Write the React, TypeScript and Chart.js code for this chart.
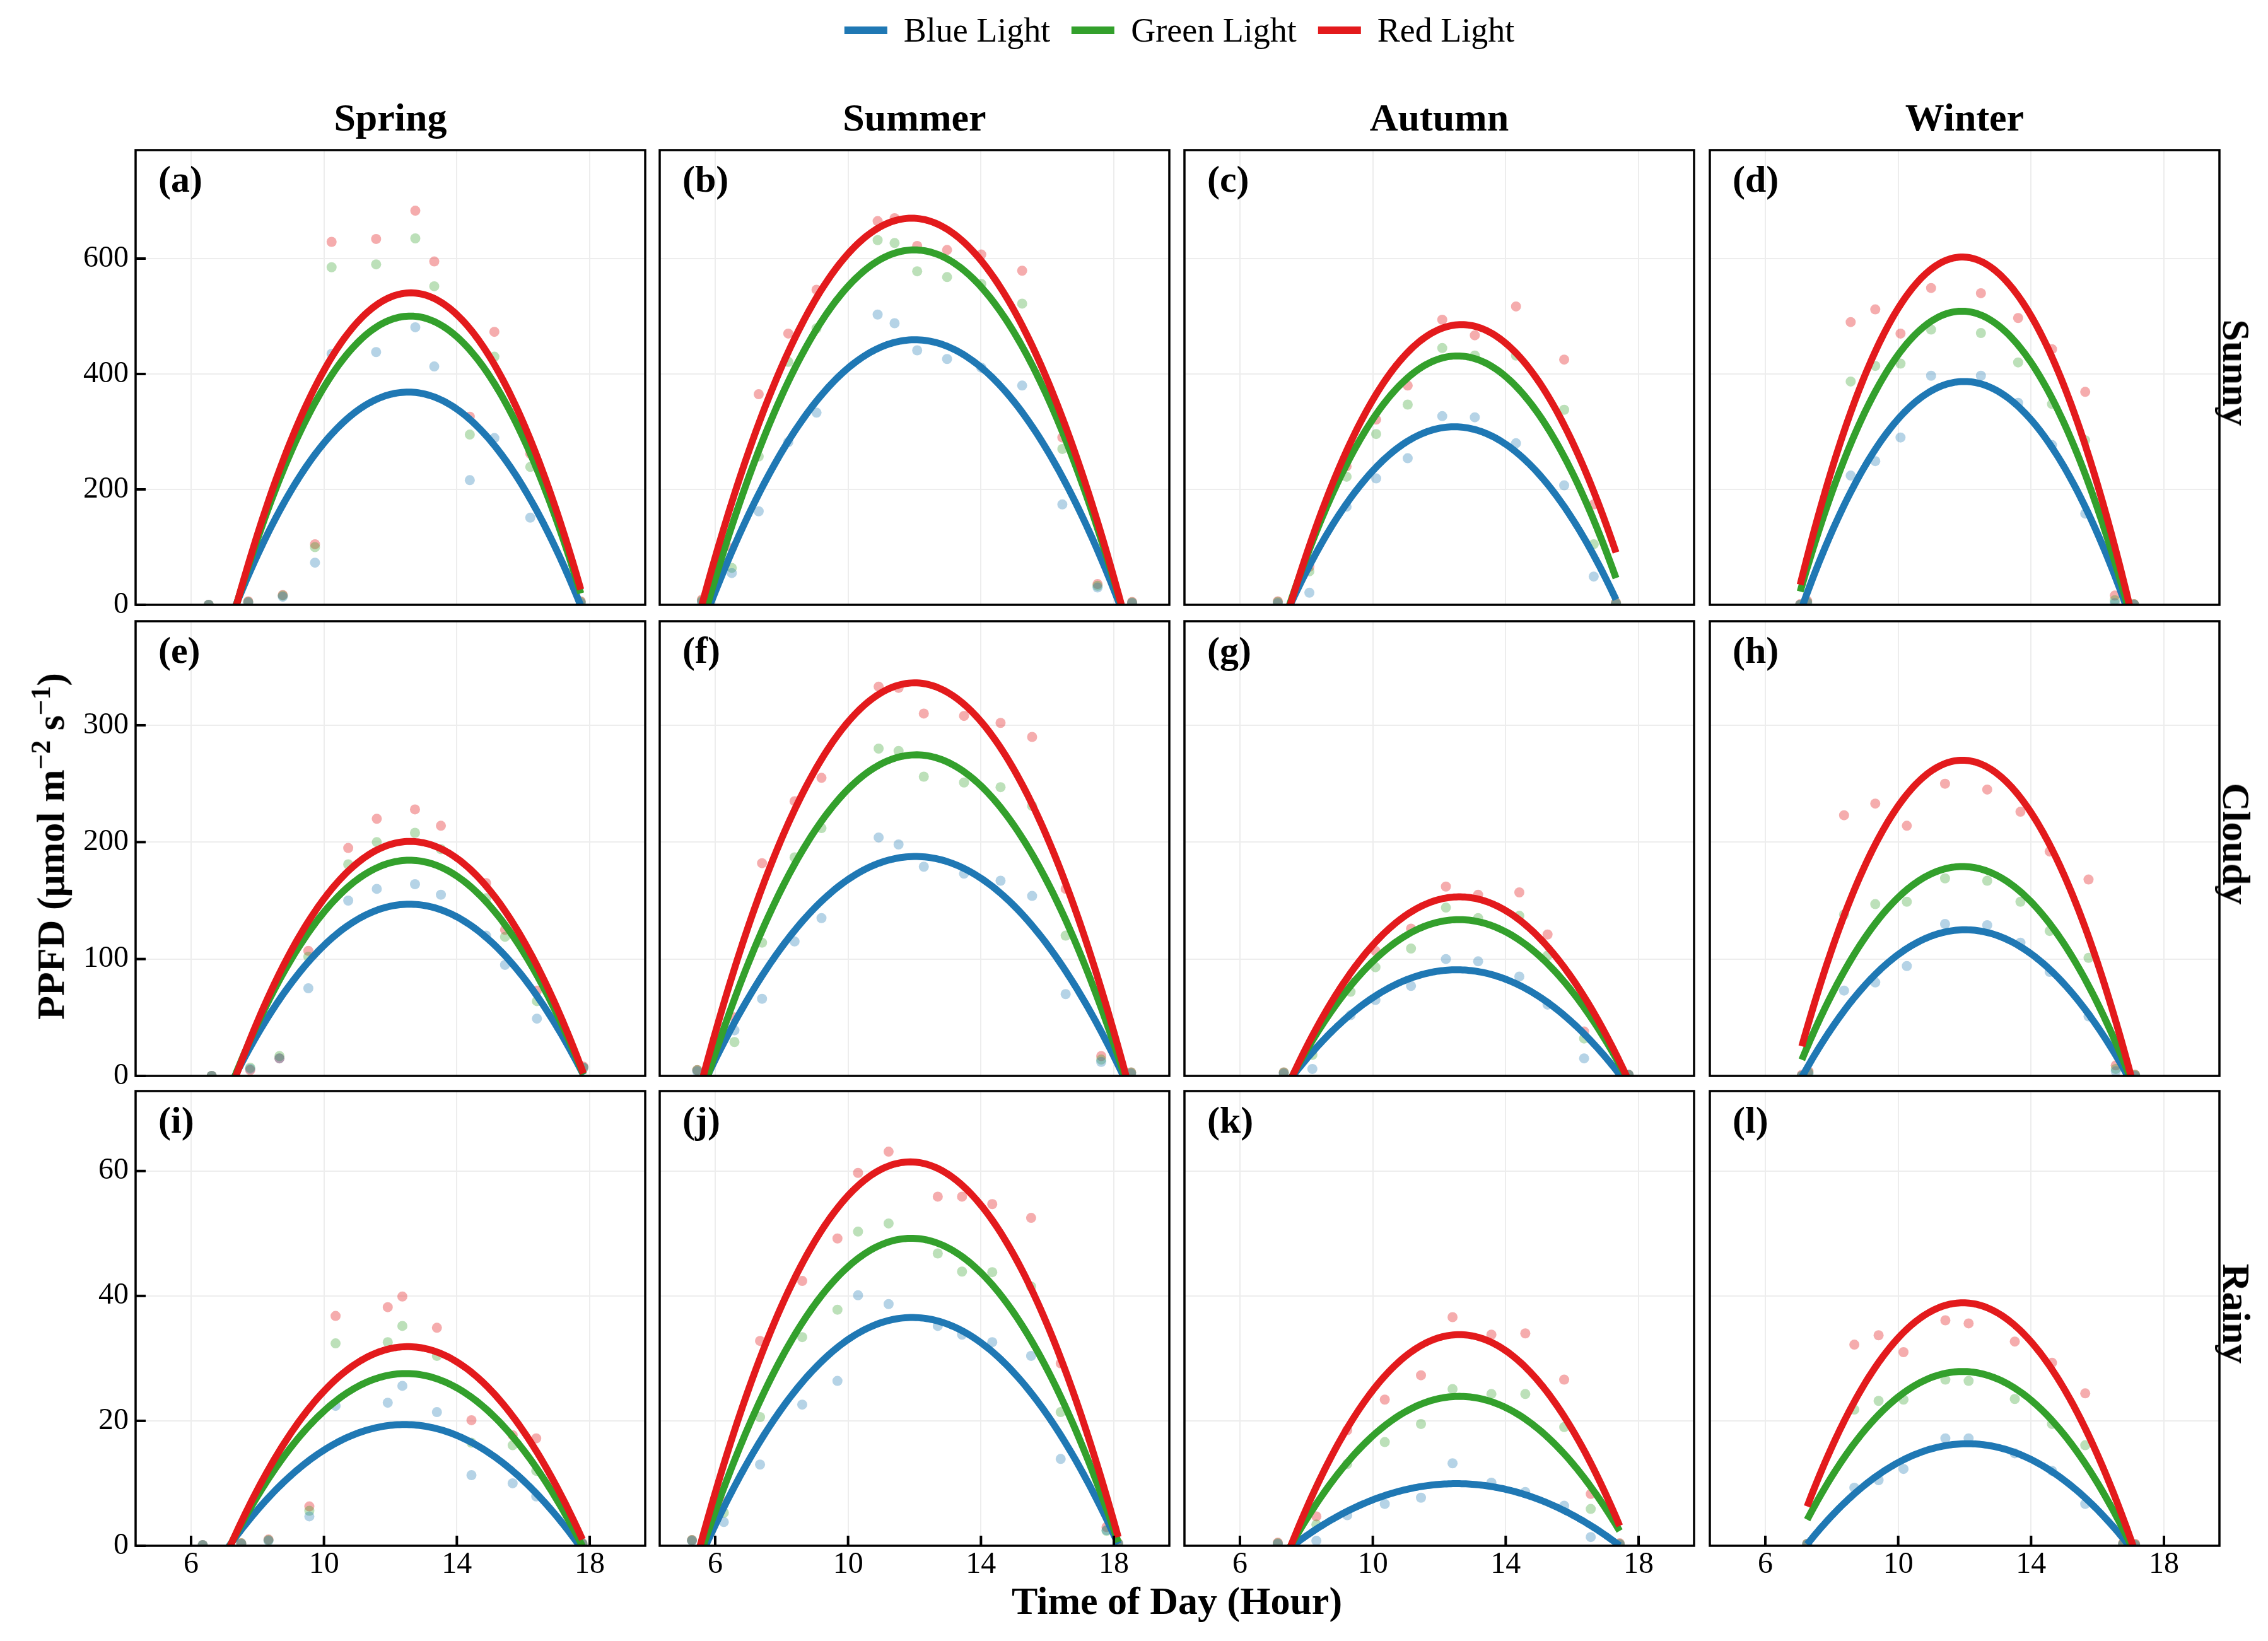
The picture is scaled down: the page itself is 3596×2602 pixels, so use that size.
import React, { useEffect, useRef } from "react";
import { Chart, registerables } from "chart.js";

Chart.register(...registerables);

// ---------------- data ----------------
const SERIES = ["Blue Light", "Green Light", "Red Light"];
const SEASONS = ["Spring", "Summer", "Autumn", "Winter"];
const WEATHER = ["Sunny", "Cloudy", "Rainy"];
const PANEL_TAGS = ["(a)", "(b)", "(c)", "(d)", "(e)", "(f)", "(g)", "(h)", "(i)", "(j)", "(k)", "(l)"];
const X_TICKS = [6, 10, 14, 18];
const Y_TICKS_SUNNY = [0, 200, 400, 600];
const Y_TICKS_CLOUDY = [0, 100, 200, 300];
const Y_TICKS_RAINY = [0, 20, 40, 60];
const X_LIMITS = [4.33, 19.67];
const Y_LIMITS_TOP = [788, 389, 72.8];

// (a) Spring - Sunny
const timeA = [6.53, 7.72, 8.76, 9.73, 10.23, 11.57, 12.75, 13.32, 14.39, 15.13, 16.21, 17.73];
const blueA = [0, 4, 14, 73, 435, 438, 481, 413, 216, 289, 151, 3];
const greenA = [0, 5, 16, 100, 585, 590, 635, 552, 295, 430, 239, 5];
const redA = [0, 6, 17, 105, 629, 634, 683, 595, 326, 473, 262, 6];
// (b) Summer - Sunny
const timeB = [5.6, 6.5, 7.31, 8.2, 9.05, 10.89, 11.4, 12.08, 12.98, 14.01, 15.24, 16.45, 17.51, 18.55];
const blueB = [5, 55, 162, 282, 333, 503, 488, 441, 426, 411, 380, 174, 30, 3];
const greenB = [7, 64, 257, 421, 479, 632, 627, 578, 568, 556, 522, 270, 33, 4];
const redB = [9, 98, 365, 470, 546, 665, 670, 622, 615, 607, 579, 290, 36, 5];
// (c) Autumn - Sunny
const timeC = [7.14, 8.09, 9.21, 10.1, 11.05, 12.09, 13.07, 14.31, 15.76, 16.65, 17.32];
const blueC = [3, 21, 170, 219, 254, 327, 325, 280, 207, 49, 2];
const greenC = [5, 58, 222, 296, 347, 445, 432, 432, 338, 105, 3];
const redC = [6, 66, 240, 321, 380, 494, 467, 517, 425, 174, 4];
// (d) Winter - Sunny
const timeD = [7.05, 7.26, 8.57, 9.31, 10.07, 10.99, 12.49, 13.61, 14.63, 15.63, 16.52, 17.1];
const blueD = [0, 3, 224, 249, 290, 397, 397, 350, 277, 158, 3, 0];
const greenD = [0, 5, 387, 414, 418, 477, 471, 420, 348, 285, 8, 1];
const redD = [1, 7, 490, 512, 470, 549, 540, 497, 443, 369, 16, 1];
// (e) Spring - Cloudy
const timeE = [6.62, 7.78, 8.66, 9.53, 10.73, 11.59, 12.74, 13.52, 14.88, 15.45, 16.41, 17.81];
const blueE = [0, 6, 15, 75, 150, 160, 164, 155, 120, 95, 49, 7];
const greenE = [0, 7, 17, 102, 181, 200, 208, 194, 152, 119, 64, 7];
const redE = [0, 5, 15, 107, 195, 220, 228, 214, 165, 125, 73, 8];
// (f) Summer - Cloudy
const timeF = [5.46, 6.58, 7.41, 8.39, 9.2, 10.92, 11.52, 12.28, 13.49, 14.59, 15.54, 16.55, 17.62, 18.52];
const blueF = [4, 39, 66, 115, 135, 204, 198, 179, 173, 167, 154, 70, 12, 2];
const greenF = [5, 29, 114, 187, 212, 280, 278, 256, 251, 247, 231, 120, 14, 3];
const redF = [5, 50, 182, 235, 255, 333, 332, 310, 308, 302, 290, 160, 17, 3];
// (g) Autumn - Cloudy
const timeG = [7.32, 8.18, 9.33, 10.08, 11.15, 12.2, 13.17, 14.41, 15.26, 16.36, 17.7];
const blueG = [2, 6, 52, 65, 77, 100, 98, 85, 61, 15, 1];
const greenG = [3, 18, 72, 93, 109, 144, 135, 137, 103, 32, 1];
const redG = [3, 22, 80, 107, 126, 162, 155, 157, 121, 38, 1];
// (h) Winter - Cloudy
const timeH = [7.1, 7.3, 8.37, 9.31, 10.26, 11.41, 12.68, 13.68, 14.56, 15.73, 16.55, 17.13];
const blueH = [0, 2, 73, 80, 94, 130, 129, 114, 89, 51, 4, 0];
const greenH = [0, 3, 138, 147, 149, 169, 167, 149, 124, 101, 6, 1];
const redH = [1, 4, 223, 233, 214, 250, 245, 226, 192, 168, 9, 1];
// (i) Spring - Rainy
const timeI = [6.35, 7.51, 8.33, 9.56, 10.35, 11.92, 12.36, 13.4, 14.44, 15.68, 16.39, 17.78];
const blueI = [0.1, 0.3, 0.8, 4.7, 22.4, 22.9, 25.6, 21.4, 11.3, 10.0, 7.9, 0.3];
const greenI = [0.1, 0.4, 0.9, 5.6, 32.4, 32.6, 35.2, 30.4, 16.5, 16.1, 12.0, 0.4];
const redI = [0.1, 0.4, 1.0, 6.3, 36.8, 38.2, 39.9, 34.9, 20.1, 17.7, 17.2, 0.4];
// (j) Summer - Rainy
const timeJ = [5.3, 6.26, 7.35, 8.62, 9.68, 10.3, 11.22, 12.7, 13.43, 14.34, 15.51, 16.4, 17.78, 18.13];
const blueJ = [0.8, 3.8, 13.0, 22.6, 26.4, 40.1, 38.7, 35.2, 33.8, 32.6, 30.4, 13.9, 2.5, 0.3];
const greenJ = [0.9, 5.3, 20.6, 33.4, 37.8, 50.3, 51.6, 46.8, 43.9, 43.8, 41.5, 21.4, 2.4, 0.4];
const redJ = [0.9, 7.0, 32.8, 42.4, 49.2, 59.7, 63.1, 55.9, 55.9, 54.7, 52.5, 29.2, 3.0, 0.4];
// (k) Autumn - Rainy
const timeK = [7.14, 8.3, 9.23, 10.36, 11.45, 12.4, 13.57, 14.59, 15.76, 16.56, 17.43];
const blueK = [0.3, 0.8, 4.9, 6.7, 7.7, 13.2, 10.1, 8.6, 6.4, 1.4, 0.2];
const greenK = [0.4, 3.4, 13.1, 16.6, 19.5, 25.1, 24.3, 24.3, 19.0, 5.9, 0.3];
const redK = [0.5, 4.7, 18.5, 23.4, 27.3, 36.6, 33.8, 34.0, 26.6, 8.3, 0.4];
// (l) Winter - Rainy
const timeL = [7.26, 8.68, 9.41, 10.16, 11.42, 12.12, 13.51, 14.63, 15.63, 16.77, 17.13];
const blueL = [0.2, 9.3, 10.5, 12.3, 17.2, 17.2, 14.8, 12.0, 6.7, 0.2, 0.1];
const greenL = [0.3, 21.8, 23.2, 23.4, 26.6, 26.4, 23.5, 19.5, 16.1, 0.3, 0.2];
const redL = [0.3, 32.2, 33.7, 31.0, 36.1, 35.6, 32.7, 29.3, 24.4, 0.4, 0.3];

const PANEL_DATA = [
  { t: timeA, s: [blueA, greenA, redA] },
  { t: timeB, s: [blueB, greenB, redB] },
  { t: timeC, s: [blueC, greenC, redC] },
  { t: timeD, s: [blueD, greenD, redD] },
  { t: timeE, s: [blueE, greenE, redE] },
  { t: timeF, s: [blueF, greenF, redF] },
  { t: timeG, s: [blueG, greenG, redG] },
  { t: timeH, s: [blueH, greenH, redH] },
  { t: timeI, s: [blueI, greenI, redI] },
  { t: timeJ, s: [blueJ, greenJ, redJ] },
  { t: timeK, s: [blueK, greenK, redK] },
  { t: timeL, s: [blueL, greenL, redL] },
];
const ROW_TICKS = [Y_TICKS_SUNNY, Y_TICKS_CLOUDY, Y_TICKS_RAINY];

// ---------------- styling / layout ----------------
const FONT = '"Liberation Serif", "Times New Roman", serif';
const LINE_COLORS = ["#1f78b4", "#33a02c", "#e31a1c"];
const POINT_COLORS = ["rgba(31,120,180,0.33)", "rgba(51,160,44,0.33)", "rgba(227,26,28,0.36)"];
const PANEL_LEFT = [215, 1046, 1878, 2711];
const PANEL_TOP = [238, 985, 1730];
const PANEL_W = 808;
const PANEL_H = 721;
const PAD_L = 140;
const PAD_T = 10;
const PAD_R = 10;
const PAD_B = 90;
const CURVE_SAMPLES = 160;

// least-squares quadratic fit (the fitted trend curve drawn in the figure)
function fitQuadratic(xs: number[], ys: number[]) {
  const m = [
    [0, 0, 0],
    [0, 0, 0],
    [0, 0, 0],
  ];
  const v = [0, 0, 0];
  for (let i = 0; i < xs.length; i++) {
    const x = xs[i] - 12;
    const p = [1, x, x * x];
    for (let j = 0; j < 3; j++) {
      v[j] += p[j] * ys[i];
      for (let k = 0; k < 3; k++) m[j][k] += p[j] * p[k];
    }
  }
  for (let col = 0; col < 3; col++) {
    let piv = col;
    for (let r = col + 1; r < 3; r++) if (Math.abs(m[r][col]) > Math.abs(m[piv][col])) piv = r;
    [m[col], m[piv]] = [m[piv], m[col]];
    [v[col], v[piv]] = [v[piv], v[col]];
    for (let r = col + 1; r < 3; r++) {
      const f = m[r][col] / m[col][col];
      for (let k = col; k < 3; k++) m[r][k] -= f * m[col][k];
      v[r] -= f * v[col];
    }
  }
  const c = [0, 0, 0];
  for (let r = 2; r >= 0; r--) {
    let s = v[r];
    for (let k = r + 1; k < 3; k++) s -= m[r][k] * c[k];
    c[r] = s / m[r][r];
  }
  return (x: number) => c[0] + c[1] * (x - 12) + c[2] * (x - 12) * (x - 12);
}

function Panel({ idx }: { idx: number }) {
  const ref = useRef<HTMLCanvasElement | null>(null);
  const row = Math.floor(idx / 4);
  const col = idx % 4;
  const W = PANEL_W + PAD_L + PAD_R;
  const H = PANEL_H + PAD_T + PAD_B;

  useEffect(() => {
    if (!ref.current) return;
    const pd = PANEL_DATA[idx];
    const showX = row === 2;
    const showY = col === 0;
    const yTicks = ROW_TICKS[row];
    const tMin = Math.min(...pd.t);
    const tMax = Math.max(...pd.t);

    const datasets: any[] = [];
    pd.s.forEach((vals, si) => {
      datasets.push({
        type: "scatter",
        label: SERIES[si] + " data",
        data: pd.t.map((x, i) => ({ x, y: vals[i] })),
        backgroundColor: POINT_COLORS[si],
        borderWidth: 0,
        pointRadius: 8,
        pointHoverRadius: 8,
        clip: 0,
        order: 10,
      });
    });
    pd.s.forEach((vals, si) => {
      const f = fitQuadratic(pd.t, vals);
      const pts = [];
      for (let k = 0; k <= CURVE_SAMPLES; k++) {
        const x = tMin + ((tMax - tMin) * k) / CURVE_SAMPLES;
        pts.push({ x, y: f(x) });
      }
      datasets.push({
        type: "line",
        label: SERIES[si],
        data: pts,
        borderColor: LINE_COLORS[si],
        borderWidth: 11,
        pointRadius: 0,
        tension: 0,
        fill: false,
        clip: 0,
        borderCapStyle: "butt",
        order: 3 - si,
      });
    });

    const framePlugin = {
      id: "frameAndTags",
      afterDraw(chart: any) {
        const { ctx, chartArea: a } = chart;
        ctx.save();
        ctx.strokeStyle = "#000";
        ctx.lineWidth = 3.5;
        ctx.strokeRect(a.left, a.top, a.right - a.left, a.bottom - a.top);
        ctx.lineWidth = 4;
        if (showX) {
          chart.scales.x.ticks.forEach((t: any) => {
            const px = chart.scales.x.getPixelForValue(t.value);
            ctx.beginPath();
            ctx.moveTo(px, a.bottom);
            ctx.lineTo(px, a.bottom - 16);
            ctx.stroke();
          });
        }
        if (showY) {
          chart.scales.y.ticks.forEach((t: any) => {
            const py = chart.scales.y.getPixelForValue(t.value);
            ctx.beginPath();
            ctx.moveTo(a.left, py);
            ctx.lineTo(a.left + 16, py);
            ctx.stroke();
          });
        }
        ctx.fillStyle = "#000";
        ctx.font = `bold 60px ${FONT}`;
        ctx.textAlign = "left";
        ctx.textBaseline = "middle";
        ctx.fillText(PANEL_TAGS[idx], a.left + 36, a.top + 50);
        ctx.restore();
      },
    };

    const chart = new Chart(ref.current, {
      type: "scatter",
      data: { datasets },
      options: {
        animation: false,
        responsive: false,
        devicePixelRatio: 1,
        events: [],
        layout: { padding: { left: 0, top: PAD_T, right: PAD_R, bottom: 0 } },
        plugins: { legend: { display: false }, tooltip: { enabled: false } },
        scales: {
          x: {
            type: "linear",
            min: X_LIMITS[0],
            max: X_LIMITS[1],
            afterBuildTicks: (s: any) => {
              s.ticks = X_TICKS.map((v) => ({ value: v }));
            },
            afterFit: (s: any) => {
              s.height = PAD_B;
              s.paddingLeft = 0;
              s.paddingRight = 0;
              s.paddingTop = 0;
              s.paddingBottom = 0;
            },
            ticks: {
              display: showX,
              color: "#000",
              font: { family: FONT, size: 48 },
              padding: 2,
              maxRotation: 0,
              autoSkip: false,
            },
            grid: { color: "#ededed", lineWidth: 2, drawTicks: false },
            border: { display: false },
          },
          y: {
            type: "linear",
            min: 0,
            max: Y_LIMITS_TOP[row],
            afterBuildTicks: (s: any) => {
              s.ticks = yTicks.map((v) => ({ value: v }));
            },
            afterFit: (s: any) => {
              s.width = PAD_L;
              s.paddingLeft = 0;
              s.paddingRight = 0;
              s.paddingTop = 0;
              s.paddingBottom = 0;
            },
            ticks: {
              display: showY,
              color: "#000",
              font: { family: FONT, size: 48 },
              padding: 11,
              autoSkip: false,
            },
            grid: { color: "#ededed", lineWidth: 2, drawTicks: false },
            border: { display: false },
          },
        },
      },
      plugins: [framePlugin],
    } as any);
    return () => chart.destroy();
  }, [idx]);

  return (
    <canvas
      ref={ref}
      width={W}
      height={H}
      style={{
        position: "absolute",
        left: PANEL_LEFT[col] - PAD_L,
        top: PANEL_TOP[row] - PAD_T,
        width: W,
        height: H,
      }}
    />
  );
}

export default function App() {
  useEffect(() => {
    document.body.style.margin = "0";
  }, []);

  const textBase: React.CSSProperties = {
    position: "absolute",
    fontFamily: FONT,
    color: "#000",
    whiteSpace: "nowrap",
    lineHeight: 1,
  };

  return (
    <div
      style={{
        position: "relative",
        width: 3596,
        height: 2602,
        background: "#fff",
        overflow: "hidden",
      }}
    >
      {/* legend */}
      <div
        style={{
          ...textBase,
          left: 1870,
          top: 48,
          transform: "translate(-50%, -50%)",
          display: "flex",
          alignItems: "center",
          fontSize: 54,
        }}
      >
        {SERIES.map((name, i) => (
          <div key={name} style={{ display: "flex", alignItems: "center", marginRight: i < 2 ? 34 : 0 }}>
            <span style={{ display: "inline-block", width: 68, height: 12, background: LINE_COLORS[i], marginRight: 26 }} />
            <span>{name}</span>
          </div>
        ))}
      </div>

      {/* column titles */}
      {SEASONS.map((s, c) => (
        <div
          key={s}
          style={{
            ...textBase,
            left: PANEL_LEFT[c],
            width: PANEL_W,
            top: 186,
            transform: "translateY(-50%)",
            textAlign: "center",
            fontWeight: "bold",
            fontSize: 62,
          }}
        >
          {s}
        </div>
      ))}

      {Array.from({ length: 12 }, (_, i) => (
        <Panel key={i} idx={i} />
      ))}

      {/* row labels */}
      {WEATHER.map((w, r) => (
        <div
          key={w}
          style={{
            ...textBase,
            left: 3546,
            top: PANEL_TOP[r] + PANEL_H / 2 - 8,
            transform: "translate(-50%, -50%) rotate(90deg)",
            fontWeight: "bold",
            fontSize: 62,
          }}
        >
          {w}
        </div>
      ))}

      {/* y axis label */}
      <div
        style={{
          ...textBase,
          left: 77,
          top: PANEL_TOP[1] + PANEL_H / 2 - 4,
          transform: "translate(-50%, -50%) rotate(-90deg)",
          fontWeight: "bold",
          fontSize: 62,
        }}
      >
        PPFD (μmol m<sup style={{ fontSize: "0.7em" }}>−2</sup> s<sup style={{ fontSize: "0.7em" }}>−1</sup>)
      </div>

      {/* x axis label */}
      <div
        style={{
          ...textBase,
          left: 1866,
          top: 2538,
          transform: "translate(-50%, -50%)",
          fontWeight: "bold",
          fontSize: 62,
        }}
      >
        Time of Day (Hour)
      </div>
    </div>
  );
}
